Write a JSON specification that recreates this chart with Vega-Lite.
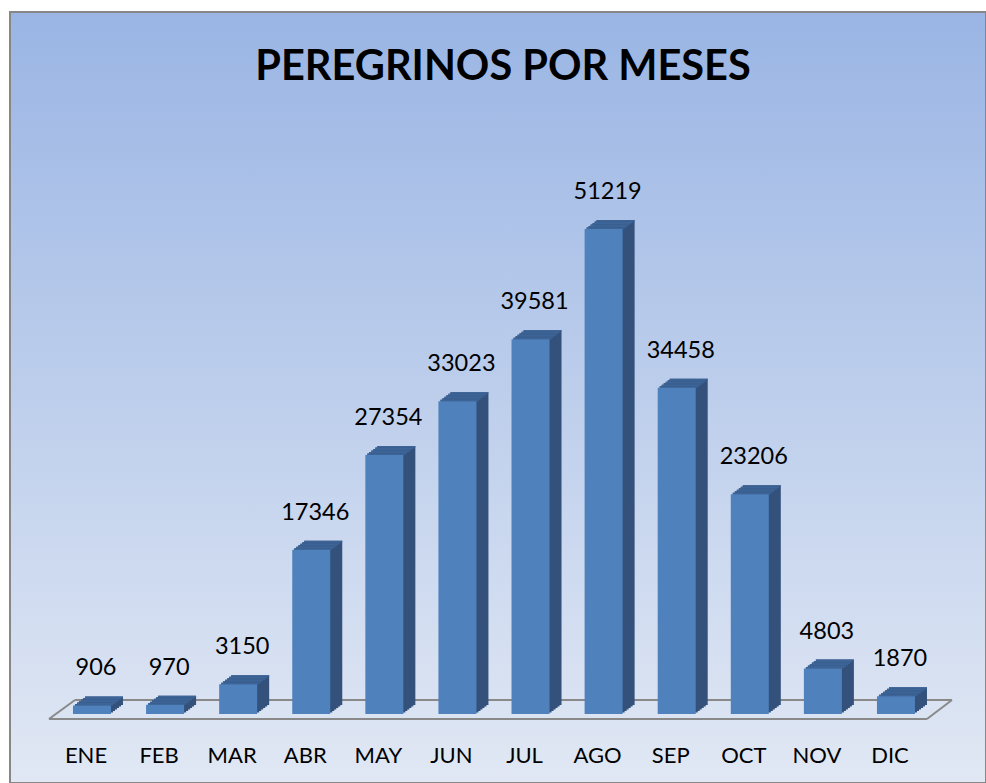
{
  "$schema": "https://vega.github.io/schema/vega-lite/v6.json",
  "width": 976,
  "height": 771,
  "autosize": {"type": "none"},
  "padding": {"left": 10, "top": 12, "right": 0, "bottom": 0},
  "background": "white",
  "view": {
    "fill": {"gradient": "linear", "x1": 0, "y1": 0, "x2": 0, "y2": 1,
      "stops": [{"offset": 0, "color": "#9ab5e4"}, {"offset": 1, "color": "#e1e8f4"}]},
    "stroke": "#878787",
    "strokeWidth": 2
  },
  "title": {"text": "PEREGRINOS POR MESES", "font": "Lato", "fontSize": 41.5, "fontWeight": "bold", "color": "black", "anchor": "middle", "frame": "group", "baseline": "alphabetic", "offset": -67, "dy": 42, "dx": 5},
  "data": {"values": [
    {"mes": "ENE", "valor": 906},
    {"mes": "FEB", "valor": 970},
    {"mes": "MAR", "valor": 3150},
    {"mes": "ABR", "valor": 17346},
    {"mes": "MAY", "valor": 27354},
    {"mes": "JUN", "valor": 33023},
    {"mes": "JUL", "valor": 39581},
    {"mes": "AGO", "valor": 51219},
    {"mes": "SEP", "valor": 34458},
    {"mes": "OCT", "valor": 23206},
    {"mes": "NOV", "valor": 4803},
    {"mes": "DIC", "valor": 1870}
  ]},
  "encoding": {
    "x": {"field": "mes", "type": "nominal",
      "scale": {"domain": ["ENE","FEB","MAR","ABR","MAY","JUN","JUL","AGO","SEP","OCT","NOV","DIC"], "paddingInner": 0.48, "paddingOuter": 0.9167, "align": 0.47},
      "axis": {"orient": "bottom", "offset": -21, "title": null, "labelAngle": 0, "labelBaseline": "alphabetic", "labelPadding": 0, "ticks": false, "tickSize": 0, "domain": false, "grid": false, "labelFont": "Lato", "labelFontSize": 22, "labelColor": "black", "labelOffset": -6}},
    "y": {"field": "valor", "type": "quantitative", "scale": {"domain": [-7287, 74136], "nice": false, "zero": false}, "axis": null}
  },
  "layer": [
    {"transform": [{"filter": "datum.mes === 'ENE'"}], "mark": {"type": "rule", "color": "#898989", "strokeWidth": 2, "xOffset": -17, "x2Offset": 56},
     "encoding": {"x": {"datum": "ENE"}, "x2": {"datum": "DIC"}, "y": {"datum": 1478}}},
    {"transform": [{"filter": "datum.mes === 'ENE'"}], "mark": {"type": "rule", "color": "#898989", "strokeWidth": 2, "xOffset": -43, "x2Offset": 31},
     "encoding": {"x": {"datum": "ENE"}, "x2": {"datum": "DIC"}, "y": {"datum": -528}}},
    {"transform": [{"filter": "datum.mes === 'ENE'"}], "mark": {"type": "rule", "color": "#898989", "strokeWidth": 2, "xOffset": -43, "x2Offset": -17},
     "encoding": {"x": {"datum": "ENE"}, "x2": {"datum": "ENE"}, "y": {"datum": -528}, "y2": {"datum": 1478}}},
    {"transform": [{"filter": "datum.mes === 'ENE'"}], "mark": {"type": "rule", "color": "#898989", "strokeWidth": 2, "xOffset": 31, "x2Offset": 56},
     "encoding": {"x": {"datum": "DIC"}, "x2": {"datum": "DIC"}, "y": {"datum": -528}, "y2": {"datum": 1478}}},

    {"mark": {"type": "bar", "color": "#33517a", "xOffset": 2, "yOffset": -1.5, "y2Offset": -1.5}, "encoding": {"y2": {"datum": 0}}},
    {"mark": {"type": "bar", "color": "#33517a", "xOffset": 4, "yOffset": -3, "y2Offset": -3}, "encoding": {"y2": {"datum": 0}}},
    {"mark": {"type": "bar", "color": "#33517a", "xOffset": 6, "yOffset": -4.5, "y2Offset": -4.5}, "encoding": {"y2": {"datum": 0}}},
    {"mark": {"type": "bar", "color": "#33517a", "xOffset": 8, "yOffset": -6, "y2Offset": -6}, "encoding": {"y2": {"datum": 0}}},
    {"mark": {"type": "bar", "color": "#33517a", "xOffset": 10, "yOffset": -7.5, "y2Offset": -7.5}, "encoding": {"y2": {"datum": 0}}},
    {"mark": {"type": "bar", "color": "#33517a", "xOffset": 12, "yOffset": -9, "y2Offset": -9}, "encoding": {"y2": {"datum": 0}}},

    {"mark": {"type": "bar", "color": "#3d6497", "xOffset": 2, "yOffset": -1.5, "y2Offset": 0}, "encoding": {"y2": {"field": "valor"}}},
    {"mark": {"type": "bar", "color": "#3d6497", "xOffset": 4, "yOffset": -3, "y2Offset": -1.5}, "encoding": {"y2": {"field": "valor"}}},
    {"mark": {"type": "bar", "color": "#3d6497", "xOffset": 6, "yOffset": -4.5, "y2Offset": -3}, "encoding": {"y2": {"field": "valor"}}},
    {"mark": {"type": "bar", "color": "#3d6497", "xOffset": 8, "yOffset": -6, "y2Offset": -4.5}, "encoding": {"y2": {"field": "valor"}}},
    {"mark": {"type": "bar", "color": "#3d6497", "xOffset": 10, "yOffset": -7.5, "y2Offset": -6}, "encoding": {"y2": {"field": "valor"}}},
    {"mark": {"type": "bar", "color": "#3d6497", "xOffset": 12, "yOffset": -9, "y2Offset": -7.5}, "encoding": {"y2": {"field": "valor"}}},

    {"mark": {"type": "bar", "color": "#4f81bd"}, "encoding": {"y2": {"datum": 0}}},

    {"mark": {"type": "text", "font": "Lato", "fontSize": 23.5, "color": "black", "baseline": "alphabetic", "align": "center", "dx": 4, "dy": -30},
     "encoding": {"text": {"field": "valor", "type": "quantitative", "format": "d"}}}
  ]
}
